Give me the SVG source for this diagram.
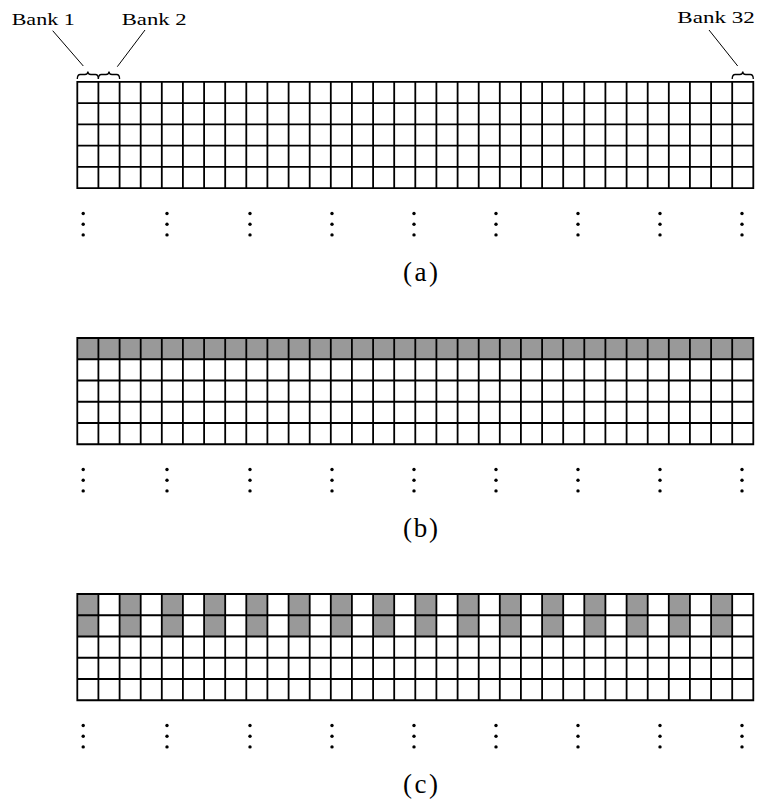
<svg xmlns="http://www.w3.org/2000/svg" xmlns:xlink="http://www.w3.org/1999/xlink" width="757" height="805" viewBox="0 0 757 805">
<style>
.grid{fill:none;stroke:#000;stroke-width:1.8}
.gray{fill:#999999;stroke:none}
.dot{fill:#000}
.lead{fill:none;stroke:#000;stroke-width:1}
.brace{fill:none;stroke:#000;stroke-width:1.3}
.lbl{font-family:"Liberation Serif","DejaVu Serif",serif;fill:#000}
.bank{font-size:17px}
.cap{font-size:27px;text-anchor:middle}
</style>
<defs>
<path id="glines" d="M77.3 0V106.25M98.4 0V106.25M119.6 0V106.25M140.7 0V106.25M161.8 0V106.25M182.9 0V106.25M204.1 0V106.25M225.2 0V106.25M246.3 0V106.25M267.4 0V106.25M288.6 0V106.25M309.7 0V106.25M330.8 0V106.25M351.9 0V106.25M373.1 0V106.25M394.2 0V106.25M415.3 0V106.25M436.4 0V106.25M457.6 0V106.25M478.7 0V106.25M499.8 0V106.25M520.9 0V106.25M542.1 0V106.25M563.2 0V106.25M584.3 0V106.25M605.4 0V106.25M626.6 0V106.25M647.7 0V106.25M668.8 0V106.25M689.9 0V106.25M711.1 0V106.25M732.2 0V106.25M753.3 0V106.25M76.4 0H754.2M77.3 21.25H753.3M77.3 42.5H753.3M77.3 63.75H753.3M77.3 85H753.3M76.4 106.25H754.2"/>
<g id="dots">
<circle cx="83.2" cy="0" r="1.7"/><circle cx="83.2" cy="10.7" r="1.7"/><circle cx="83.2" cy="21.4" r="1.7"/>
<circle cx="167" cy="0" r="1.7"/><circle cx="167" cy="10.7" r="1.7"/><circle cx="167" cy="21.4" r="1.7"/>
<circle cx="250" cy="0" r="1.7"/><circle cx="250" cy="10.7" r="1.7"/><circle cx="250" cy="21.4" r="1.7"/>
<circle cx="332" cy="0" r="1.7"/><circle cx="332" cy="10.7" r="1.7"/><circle cx="332" cy="21.4" r="1.7"/>
<circle cx="414" cy="0" r="1.7"/><circle cx="414" cy="10.7" r="1.7"/><circle cx="414" cy="21.4" r="1.7"/>
<circle cx="496" cy="0" r="1.7"/><circle cx="496" cy="10.7" r="1.7"/><circle cx="496" cy="21.4" r="1.7"/>
<circle cx="578" cy="0" r="1.7"/><circle cx="578" cy="10.7" r="1.7"/><circle cx="578" cy="21.4" r="1.7"/>
<circle cx="660" cy="0" r="1.7"/><circle cx="660" cy="10.7" r="1.7"/><circle cx="660" cy="21.4" r="1.7"/>
<circle cx="742" cy="0" r="1.7"/><circle cx="742" cy="10.7" r="1.7"/><circle cx="742" cy="21.4" r="1.7"/>
</g>
</defs>
<rect width="757" height="805" fill="#fff"/>

<g id="labels-a">
<text class="lbl bank" x="11.7" y="25" textLength="63" lengthAdjust="spacingAndGlyphs">Bank 1</text>
<text class="lbl bank" x="121.7" y="25" textLength="65" lengthAdjust="spacingAndGlyphs">Bank 2</text>
<text class="lbl bank" x="677.3" y="23" textLength="77.5" lengthAdjust="spacingAndGlyphs">Bank 32</text>
</g>

<g id="connectors">
<line class="lead" x1="52.7" y1="30.7" x2="83.3" y2="66"/>
<line class="lead" x1="145" y1="30" x2="117.3" y2="66.7"/>
<line class="lead" x1="709" y1="30" x2="737.7" y2="66"/>
<path class="brace" d="M77.3 79Q77.3 74.5 80.3 74.5H84.85Q87.85 74.5 87.85 71.5Q87.85 74.5 90.85 74.5H95.4Q98.4 74.5 98.4 79"/>
<path class="brace" d="M98.4 79Q98.4 74.5 101.4 74.5H106Q109 74.5 109 71.5Q109 74.5 112 74.5H116.6Q119.6 74.5 119.6 79"/>
<path class="brace" d="M732.2 79Q732.2 74.5 735.2 74.5H739.75Q742.75 74.5 742.75 71.5Q742.75 74.5 745.75 74.5H750.3Q753.3 74.5 753.3 79"/>
</g>

<g id="panel-a">
<use xlink:href="#glines" class="grid" transform="translate(0,81.9)"/>
<use xlink:href="#dots" class="dot" transform="translate(0,213.5)"/>
<text class="lbl cap" x="420.5" y="281" textLength="35" lengthAdjust="spacing">(a)</text>
</g>

<g id="panel-b">
<rect class="gray" x="77.3" y="338" width="676" height="21.25"/>
<use xlink:href="#glines" class="grid" transform="translate(0,338)"/>
<use xlink:href="#dots" class="dot" transform="translate(0,469.5)"/>
<text class="lbl cap" x="420.5" y="537" textLength="35" lengthAdjust="spacing">(b)</text>
</g>

<g id="panel-c">
<g class="gray">
<rect x="77.3" y="594" width="21.1" height="42.5"/>
<rect x="119.6" y="594" width="21.1" height="42.5"/>
<rect x="161.8" y="594" width="21.1" height="42.5"/>
<rect x="204.1" y="594" width="21.1" height="42.5"/>
<rect x="246.3" y="594" width="21.1" height="42.5"/>
<rect x="288.6" y="594" width="21.1" height="42.5"/>
<rect x="330.8" y="594" width="21.1" height="42.5"/>
<rect x="373.1" y="594" width="21.1" height="42.5"/>
<rect x="415.3" y="594" width="21.1" height="42.5"/>
<rect x="457.6" y="594" width="21.1" height="42.5"/>
<rect x="499.8" y="594" width="21.1" height="42.5"/>
<rect x="542.1" y="594" width="21.1" height="42.5"/>
<rect x="584.3" y="594" width="21.1" height="42.5"/>
<rect x="626.6" y="594" width="21.1" height="42.5"/>
<rect x="668.8" y="594" width="21.1" height="42.5"/>
<rect x="711.1" y="594" width="21.1" height="42.5"/>
</g>
<use xlink:href="#glines" class="grid" transform="translate(0,594)"/>
<use xlink:href="#dots" class="dot" transform="translate(0,725.5)"/>
<text class="lbl cap" x="420.5" y="793" textLength="35" lengthAdjust="spacing">(c)</text>
</g>
</svg>
